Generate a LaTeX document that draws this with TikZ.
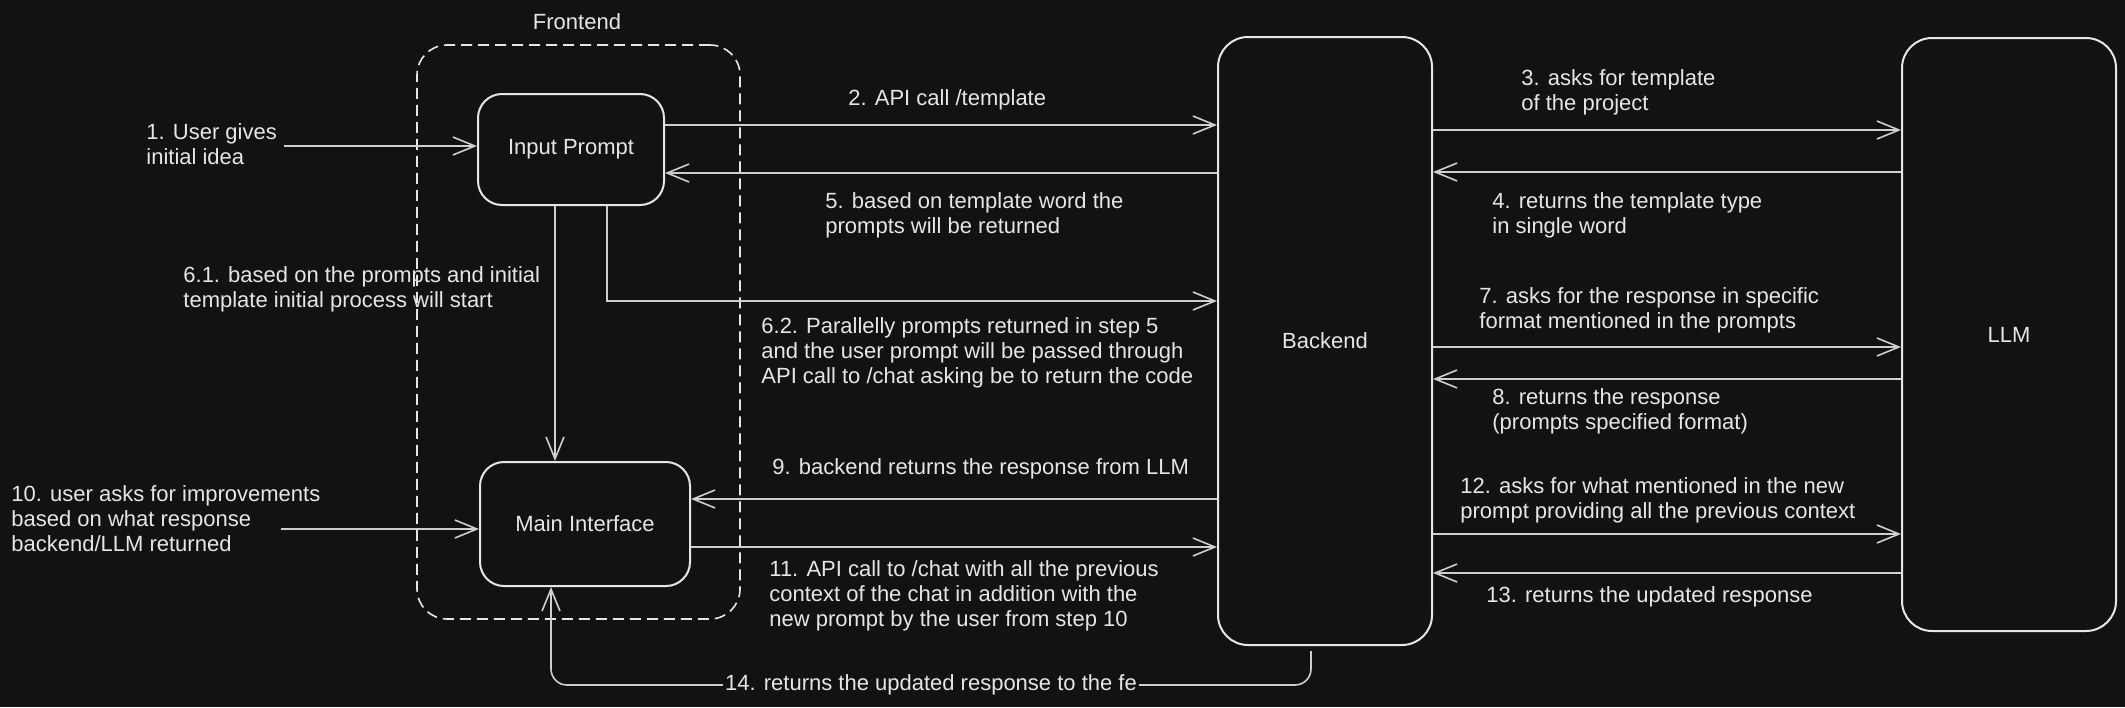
\documentclass[tikz,border=0pt]{standalone}
\usepackage{fontspec}
\setmainfont{Liberation Sans}
\usetikzlibrary{arrows.meta,calc}
\definecolor{bg}{HTML}{121212}
\definecolor{fg}{HTML}{E6E6E6}
\definecolor{ln}{HTML}{CFCFCF}
\begin{document}
\begin{tikzpicture}[x=0.5pt,y=-0.5pt,
  box/.style={draw=fg, line width=1pt, rounded corners=12pt, fill=bg, text=fg, font=\fontsize{11}{12.5}\selectfont, inner sep=0pt},
  frame/.style={draw=fg, line width=0.8pt, dash pattern=on 5.5pt off 3pt, rounded corners=15pt, inner sep=0pt},
  arr/.style={draw=ln, line width=0.8pt, -{Straight Barb[length=11pt,width=9pt,line width=0.8pt]}},
  lbl/.style={text=fg, font=\fontsize{11}{12.5}\selectfont, align=left, inner sep=0pt, anchor=west},
]
\fill[bg] (0,0) rectangle (2125,707);
\useasboundingbox (0,0) rectangle (2125,707);

% frame and boxes
\node[frame, minimum width=161.5pt, minimum height=287pt] (fe) at (578.5,332) {};
\node[lbl, anchor=center] (felbl) at (577,22) {Frontend};
\node[box, minimum width=93pt, minimum height=55.5pt] (ip) at (571,149.5) {Input Prompt};
\node[box, minimum width=105pt, minimum height=62pt] (mi) at (585,524) {Main Interface};
\node[box, rounded corners=15pt, minimum width=107pt, minimum height=304pt] (be) at (1325,341) {Backend};
\node[box, rounded corners=15pt, minimum width=107pt, minimum height=296.5pt] (llm) at (2009,334.5) {LLM};

% free ends
\coordinate (c1) at (284,146);
\coordinate (c10) at (281,529);
\coordinate (c14) at (931,685);
\coordinate (c14s) at ($(be.south -| 1311,0)+(0,5)$);

% arrows
\draw[arr] (c1) -- (c1 -| ip.west);
\draw[arr] (ip.east |- 0,125) -- (be.west |- 0,125);
\draw[arr] (be.east |- 0,130) -- (llm.west |- 0,130);
\draw[arr] (llm.west |- 0,172) -- (be.east |- 0,172);
\draw[arr] (be.west |- 0,173) -- (ip.east |- 0,173);
\draw[arr] (ip.south -| 555,0) -- (mi.north -| 555,0);
\draw[arr] (ip.south -| 607,0) |- (be.west |- 0,301);
\draw[arr] (be.east |- 0,347) -- (llm.west |- 0,347);
\draw[arr] (llm.west |- 0,379) -- (be.east |- 0,379);
\draw[arr] (be.west |- 0,499) -- (mi.east |- 0,499);
\draw[arr] (c10) -- (c10 -| mi.west);
\draw[arr] (mi.east |- 0,547) -- (be.west |- 0,547);
\draw[arr] (be.east |- 0,534) -- (llm.west |- 0,534);
\draw[arr] (llm.west |- 0,573) -- (be.east |- 0,573);
\draw[arr, rounded corners=8pt] (c14s) |- (c14) -| (mi.south -| 551,0);
\node[lbl, anchor=center, fill=bg, inner xsep=1pt, inner ysep=2pt] (l14) at (c14) {14. returns the updated response to the fe};

% labels
\node[lbl] (l1) at (146,144.5) {1. User gives\\initial idea};
\node[lbl] (l2) at (848,100) {2. API call /template};
\node[lbl] (l3) at (1521,92.5) {3. asks for template\\of the project};
\node[lbl] (l4) at (1492,215.5) {4. returns the template type\\in single word};
\node[lbl] (l5) at (825,215.5) {5. based on template word the\\prompts will be returned};
\node[lbl] (l61) at (183,289.5) {6.1. based on the prompts and initial\\template initial process will start};
\node[lbl] (l62) at (761,353) {6.2. Parallelly prompts returned in step 5\\and the user prompt will be passed through\\API call to /chat asking be to return the code};
\node[lbl] (l7) at (1479,310.5) {7. asks for the response in specific\\format mentioned in the prompts};
\node[lbl] (l8) at (1492,411.5) {8. returns the response\\(prompts specified format)};
\node[lbl] (l9) at (772,469) {9. backend returns the response from LLM};
\node[lbl] (l10) at (11,519) {10. user asks for improvements\\based on what response\\backend/LLM returned};
\node[lbl] (l11) at (769,596) {11. API call to /chat with all the previous\\context of the chat in addition with the\\new prompt by the user from step 10};
\node[lbl] (l12) at (1460,500.5) {12. asks for what mentioned in the new\\prompt providing all the previous context};
\node[lbl] (l13) at (1486,597) {13. returns the updated response};
\end{tikzpicture}
\end{document}
